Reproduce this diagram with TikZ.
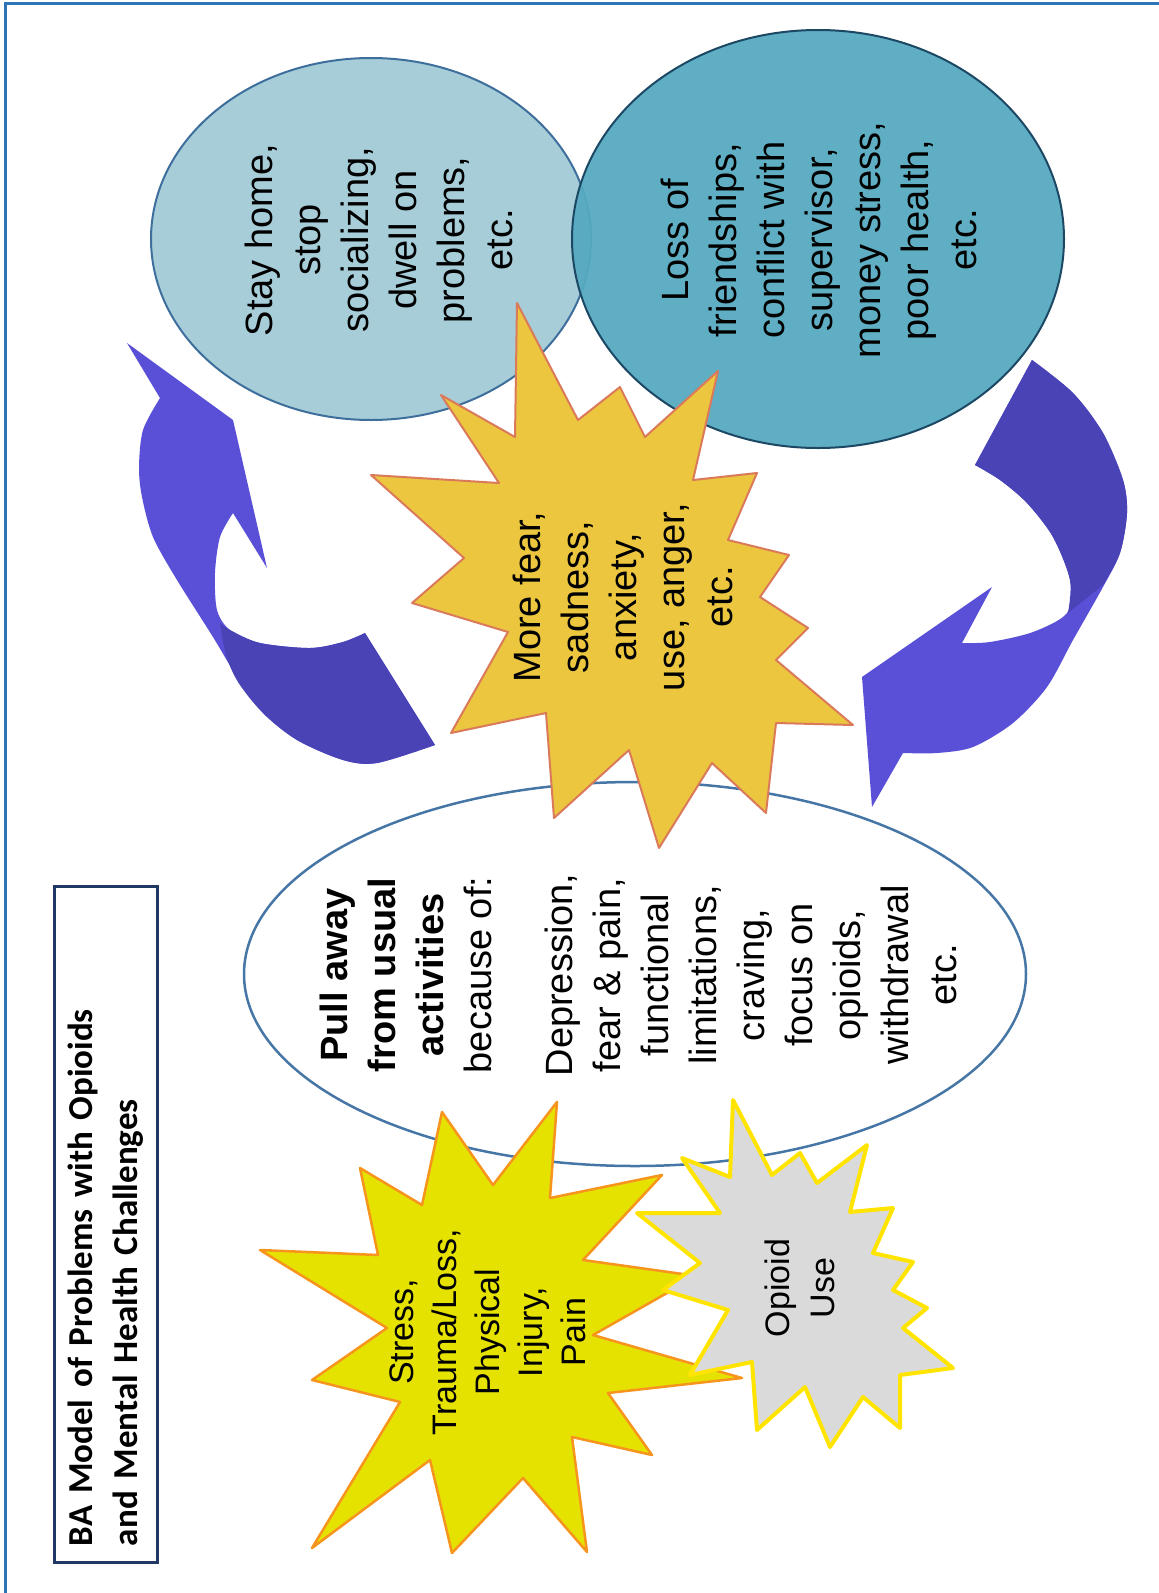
\documentclass[tikz,border=0pt]{standalone}
\usepackage{fontspec}
\setmainfont{Liberation Sans}
\newfontfamily\titlefont{Carlito}

\begin{document}
\begin{tikzpicture}[x=1pt, y=-1pt,
    bubbletext/.style={rotate=90, align=center, inner sep=0pt, font=\fontsize{38}{48}\selectfont},
    startext/.style={rotate=90, align=center, inner sep=0pt, font=\fontsize{34}{43}\selectfont},
    burst/.style={line width=2pt, line join=round}]
    % Colours
    \definecolor{frameblue}{RGB}{46,117,182}
    \definecolor{titlenavy}{RGB}{31,56,100}
    \definecolor{stayfill}{RGB}{166,205,216}
    \definecolor{stayline}{RGB}{62,110,156}
    \definecolor{lossfill}{RGB}{86,170,192}
    \definecolor{lossline}{RGB}{28,72,100}
    \definecolor{pullline}{RGB}{70,118,166}
    \definecolor{fearfill}{RGB}{235,198,62}
    \definecolor{fearline}{RGB}{218,122,90}
    \definecolor{stressfill}{RGB}{229,226,0}
    \definecolor{stressline}{RGB}{247,148,30}
    \definecolor{opioidfill}{RGB}{218,218,218}
    \definecolor{opioidline}{RGB}{255,228,0}
    \definecolor{arrowlight}{RGB}{90,80,216}
    \definecolor{arrowdark}{RGB}{74,67,181}

    % Page frame
    \useasboundingbox (0,0) rectangle (1159,1593);
    \draw[frameblue, line width=3pt] (5,1593) -- (5,3) -- (1159,3);

    % Left curved arrow
    \fill[arrowlight] (127,343) -- (160,398)
        -- plot[smooth] coordinates {(160,398) (143,430) (139,467) (142,497) (153,537) (177,580) (213,637) (237,677) (263,713) (297,740) (343,760) (377,763) (435,745)}
        -- (365,633)
        -- plot[smooth] coordinates {(365,633) (343,642) (310,648) (260,643) (230,630) (217,610) (215,573) (220,537) (233,513)}
        -- (267,568) -- (233,420) -- cycle;
    \fill[arrowdark] (220,623)
        -- plot[smooth] coordinates {(220,623) (230,630) (260,643) (310,648) (343,642) (365,633)}
        -- (435,745)
        -- plot[smooth] coordinates {(435,745) (377,763) (343,760) (297,740) (262,712) (238,682) (226,655) (220,623)}
        -- cycle;

    % Right curved arrow
    \fill[arrowlight] (872,807) -- (862,677) -- (992,587) -- (962,643)
        -- plot[smooth] coordinates {(962,643) (990,642) (1033,632) (1067,613) (1070,580) (1053,537) (1027,503) (1000,480) (975,465)}
        -- (1032,360)
        -- plot[smooth] coordinates {(1032,360) (1073,393) (1103,433) (1123,480) (1127,513) (1120,553) (1103,587) (1073,640) (1047,687) (1013,723) (973,747) (937,753) (903,753)}
        -- cycle;
    \fill[arrowdark] (975,465) -- (1032,360)
        -- plot[smooth] coordinates {(1032,360) (1073,393) (1103,433) (1123,480) (1127,513) (1120,553) (1103,585)}
        -- (1068,613)
        -- plot[smooth] coordinates {(1068,613) (1070,580) (1053,537) (1027,503) (1000,480) (975,465)}
        -- cycle;

    % Ellipses
    \filldraw[fill=stayfill, draw=stayline, line width=2pt] (371,239) ellipse (220 and 181);
    \filldraw[fill=lossfill, draw=lossline, line width=2pt, fill opacity=0.95] (818,239) ellipse (246 and 209);
    \filldraw[fill=white, draw=pullline, line width=2.5pt] (635,974) ellipse (391 and 192);

    % Bursts
    \filldraw[burst, fill=stressfill, draw=stressline, line width=2.5pt]
        (442,1112) -- (493,1185) -- (557,1102) -- (550,1198) -- (662,1175) -- (583,1260)
        -- (697,1276) -- (593,1335) -- (742,1378) -- (608,1393) -- (652,1455) -- (572,1437)
        -- (587,1552) -- (523,1478) -- (452,1553) -- (430,1460) -- (312,1548) -- (400,1402)
        -- (312,1380) -- (387,1328) -- (260,1250) -- (378,1255) -- (360,1168) -- (422,1205) -- cycle;
    \filldraw[burst, fill=opioidfill, draw=opioidline, line width=4pt]
        (733,1100) -- (772,1175) -- (800,1153) -- (817,1183) -- (867,1145) -- (850,1212)
        -- (893,1208) -- (873,1253) -- (913,1262) -- (893,1290) -- (927,1308) -- (903,1328)
        -- (953,1368) -- (900,1375) -- (900,1428) -- (863,1397) -- (830,1447) -- (805,1387)
        -- (757,1430) -- (752,1362) -- (690,1375) -- (728,1310) -- (663,1290) -- (700,1263)
        -- (637,1213) -- (720,1213) -- (682,1158) -- (730,1177) -- cycle;
    \filldraw[burst, fill=fearfill, draw=fearline]
        (517,303) -- (578,420) -- (620,387) -- (645,437) -- (718,371) -- (693,480)
        -- (757,473) -- (728,540) -- (789,555) -- (760,597) -- (808,628) -- (776,660)
        -- (853,725) -- (776,723) -- (766,813) -- (712,763) -- (659,848) -- (629,750)
        -- (554,818) -- (546,713) -- (451,733) -- (508,632) -- (412,603) -- (464,558)
        -- (371,475) -- (499,483) -- (441,395) -- (515,437) -- cycle;

    % Title box
    \node[draw=titlenavy, line width=3pt, fill=white, rotate=90, minimum width=676pt, minimum height=103pt,
          text width=644pt, inner xsep=16pt, align=left, font=\titlefont\bfseries\fontsize{35}{45}\selectfont]
          (title) at (105.5,1224) {BA Model of Problems with Opioids\\and Mental Health Challenges};

    % Texts
    \node[bubbletext] (stay) at (379,240) {Stay home,\\stop\\socializing,\\dwell on\\problems,\\etc.};
    \node[bubbletext] (loss) at (819,240) {Loss of\\friendships,\\conflict with\\supervisor,\\money stress,\\poor health,\\etc.};
    \node[bubbletext] (fear) at (623,597) {More fear,\\sadness,\\anxiety,\\use, anger,\\etc.};
    \node[bubbletext] (pull) at (638,975) {\textbf{Pull away}\\\textbf{from usual}\\\textbf{activities}\\because of:\\[33pt]Depression,\\fear \& pain,\\functional\\limitations,\\craving,\\focus on\\opioids,\\withdrawal\\etc.};
    \node[startext] (stress) at (488,1332) {Stress,\\Trauma/Loss,\\Physical\\Injury,\\Pain};
    \node[startext, font=\fontsize{34}{45}\selectfont] (opioid) at (800,1288) {Opioid\\Use};
\end{tikzpicture}
\end{document}
